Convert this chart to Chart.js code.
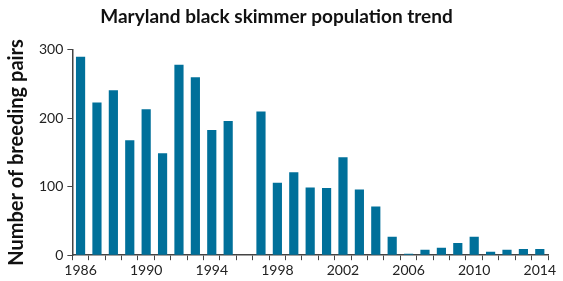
<!DOCTYPE html>
<html>
<head>
<meta charset="utf-8">
<script src="https://cdn.jsdelivr.net/npm/chart.js@4/dist/chart.umd.min.js"></script>
<style>
html,body{margin:0;padding:0;background:#fff;}
#wrap{width:563px;height:281px;position:relative;}
</style>
</head>
<body>
<div id="wrap"><canvas id="c" width="563" height="281"></canvas></div>
<script>
const years = ['1986','1987','1988','1989','1990','1991','1992','1993','1994','1995','1996','1997','1998','1999','2000','2001','2002','2003','2004','2005','2006','2007','2008','2009','2010','2011','2012','2013','2014'];
const pairs = [290,223,241,168,213,149,278,260,183,196,0,210,106,121,99,98,143,96,71,27,2,8,11,18,27,5,8,9,9];
const yTicks = [0,100,200,300];

new Chart(document.getElementById('c'), {
  type: 'bar',
  data: {
    labels: years,
    datasets: [{
      data: pairs,
      backgroundColor: '#00709A',
      barPercentage: 0.56,
      categoryPercentage: 1.0
    }]
  },
  options: {
    responsive: false,
    animation: false,
    layout: { padding: { left: 5, right: 15, top: 0, bottom: 0 } },
    plugins: {
      legend: { display: false },
      tooltip: { enabled: false },
      title: {
        display: true,
        text: 'Maryland black skimmer population trend',
        color: '#111',
        font: { family: 'Lato', size: 19, weight: 'bold' },
        padding: { top: 5, bottom: 22 }
      }
    },
    scales: {
      x: {
        offset: true,
        grid: { offset: true, drawOnChartArea: false, drawTicks: true, tickLength: 5, color: '#444', lineWidth: 1 },
        border: { display: true, color: '#444', width: 1.5 },
        ticks: {
          autoSkip: false,
          maxRotation: 0,
          padding: 2,
          color: '#222',
          font: { family: 'Lato', size: 14 },
          callback: function(v, i) { return (i % 4 === 0) ? years[i] : ''; }
        }
      },
      y: {
        min: 0,
        max: 300,
        afterBuildTicks: function(axis) { axis.ticks = yTicks.map(v => ({ value: v })); },
        grid: { drawOnChartArea: false, drawTicks: true, tickLength: 5, color: '#444' },
        border: { display: true, color: '#444', width: 1.5 },
        ticks: {
          padding: 4,
          color: '#222',
          font: { family: 'Lato', size: 14 }
        },
        title: {
          display: true,
          text: 'Number of breeding pairs',
          color: '#111',
          font: { family: 'Lato', size: 20, weight: 'bold' },
          padding: { top: 0, bottom: 6 }
        }
      }
    }
  }
});
</script>
</body>
</html>
